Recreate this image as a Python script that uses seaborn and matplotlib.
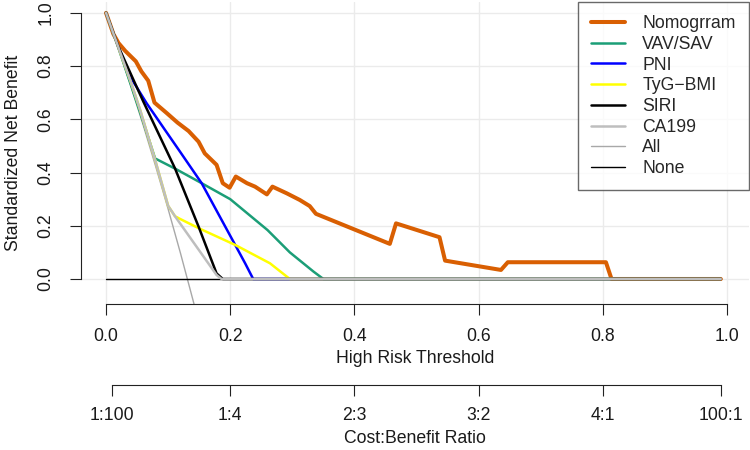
import matplotlib
matplotlib.use("Agg")
import matplotlib.pyplot as plt
import seaborn as sns
from matplotlib.lines import Line2D

# --- datos (umbral vs beneficio neto estandarizado) ---
nomo_x = [0.0, 0.012, 0.020, 0.031, 0.048, 0.057, 0.068, 0.078, 0.098, 0.115, 0.133,
          0.149, 0.159, 0.178, 0.188, 0.199, 0.209, 0.227, 0.240, 0.259, 0.268, 0.291,
          0.312, 0.328, 0.338, 0.457, 0.467, 0.537, 0.546, 0.636, 0.647, 0.805, 0.814, 0.99]
nomo_y = [1.0, 0.92, 0.887, 0.857, 0.818, 0.78, 0.745, 0.663, 0.623, 0.588, 0.556,
          0.516, 0.472, 0.429, 0.36, 0.343, 0.385, 0.36, 0.347, 0.318, 0.347, 0.322,
          0.297, 0.274, 0.245, 0.132, 0.209, 0.157, 0.069, 0.034, 0.063, 0.063, 0.0, 0.0]

vav_x = [0.0, 0.02, 0.04, 0.06, 0.079, 0.111, 0.154, 0.2, 0.26, 0.296, 0.334, 0.35, 0.99]
vav_y = [1.0, 0.868, 0.73, 0.59, 0.453, 0.415, 0.36, 0.30, 0.184, 0.10, 0.028, 0.0, 0.0]

pni_x = [0.0, 0.02, 0.039, 0.0655, 0.095, 0.119, 0.154, 0.208, 0.224, 0.237, 0.99]
pni_y = [1.0, 0.87, 0.76, 0.66, 0.56, 0.479, 0.36, 0.128, 0.059, 0.0, 0.0]

tyg_x = [0.0, 0.02, 0.04, 0.055, 0.08, 0.1, 0.111, 0.119, 0.15, 0.208, 0.264, 0.296, 0.99]
tyg_y = [1.0, 0.87, 0.74, 0.635, 0.44, 0.275, 0.236, 0.226, 0.19, 0.128, 0.059, 0.0, 0.0]

siri_x = [0.0, 0.02, 0.06, 0.111, 0.149, 0.178, 0.188, 0.99]
siri_y = [1.0, 0.873, 0.667, 0.416, 0.197, 0.021, 0.0, 0.0]

ca_x = [0.0, 0.02, 0.04, 0.055, 0.08, 0.1, 0.111, 0.178, 0.186, 0.99]
ca_y = [1.0, 0.87, 0.74, 0.635, 0.44, 0.275, 0.236, 0.015, 0.0, 0.0]

all_x = [0.0, 0.02, 0.04, 0.06, 0.08, 0.10, 0.12, 0.14, 0.16]
all_y = [1.0, 0.865, 0.724, 0.577, 0.423, 0.263, 0.096, -0.079, -0.26]

none_x = [0.0, 0.99]
none_y = [0.0, 0.0]

x_ticks = [0.0, 0.2, 0.4, 0.6, 0.8, 1.0]
y_ticks = [0.0, 0.2, 0.4, 0.6, 0.8, 1.0]
cb_ticks = [1 / 101, 0.2, 0.4, 0.6, 0.8, 100 / 101]
cb_labels = ["1:100", "1:4", "2:3", "3:2", "4:1", "100:1"]

FS = 12.7
sns.set_theme(style="white")
plt.rcParams["font.family"] = ["Liberation Sans", "DejaVu Sans"]

fig = plt.figure(figsize=(7.5, 4.5), dpi=100)
ax = fig.add_axes([81 / 750, 146 / 450, 668 / 750, 302 / 450])

# (etiqueta, x, y, color, grosor) en orden de dibujo
series = [
    ("All", all_x, all_y, "#A8A8A8", 1.0),
    ("None", none_x, none_y, "#000000", 1.0),
    ("Nomogrram", nomo_x, nomo_y, "#D95F02", 2.9),
    ("VAV/SAV", vav_x, vav_y, "#1B9E77", 1.8),
    ("PNI", pni_x, pni_y, "#0000FF", 1.8),
    ("TyG\u2212BMI", tyg_x, tyg_y, "#FFFF00", 1.8),
    ("SIRI", siri_x, siri_y, "#000000", 1.8),
    ("CA199", ca_x, ca_y, "#BEBEBE", 1.8),
]
for lab, xs, ys, col, lw in series:
    sns.lineplot(x=xs, y=ys, color=col, linewidth=lw, sort=False,
                 estimator=None, ax=ax)

ax.set_xlim(-0.0403, 1.0354)
ax.set_ylim(-0.094, 1.041)
ax.grid(True, color="#EBEBEB", linewidth=1)
ax.set_axisbelow(True)
for s in ["top", "right"]:
    ax.spines[s].set_visible(False)
ax.spines["left"].set_bounds(0, 1)
ax.spines["bottom"].set_bounds(0, 1)
for s in ["left", "bottom"]:
    ax.spines[s].set_color("#222222")
    ax.spines[s].set_linewidth(0.8)
ax.set_xticks(x_ticks)
ax.set_xticklabels(["0.0", "0.2", "0.4", "0.6", "0.8", "1.0"])
ax.set_yticks(y_ticks)
ax.set_yticklabels(["0.0", "0.2", "0.4", "0.6", "0.8", "1.0"], rotation=90, va="center")
ax.tick_params(axis="both", direction="out", length=8, width=0.8, color="#222222",
               labelsize=FS, labelcolor="#1a1a1a", bottom=True, left=True)
ax.tick_params(axis="x", pad=9)
ax.tick_params(axis="y", pad=11)
ax.set_xlabel("High Risk Threshold", fontsize=FS, labelpad=4, color="#1a1a1a")
ax.set_ylabel("Standardized Net Benefit", fontsize=FS, labelpad=11, color="#1a1a1a")

# eje secundario Cost:Benefit
ax2 = fig.add_axes([81 / 750, 65 / 450, 668 / 750, 0.0001])
ax2.set_xlim(ax.get_xlim())
for s in ["top", "right", "left"]:
    ax2.spines[s].set_visible(False)
ax2.spines["bottom"].set_bounds(cb_ticks[0], cb_ticks[-1])
ax2.spines["bottom"].set_color("#222222")
ax2.spines["bottom"].set_linewidth(0.8)
ax2.set_yticks([])
ax2.set_xticks(cb_ticks)
ax2.set_xticklabels(cb_labels)
ax2.tick_params(axis="x", direction="out", length=8, width=0.8, color="#222222",
                labelsize=FS, labelcolor="#1a1a1a", pad=8, bottom=True)
ax2.set_xlabel("Cost:Benefit Ratio", fontsize=FS, labelpad=4, color="#1a1a1a")
ax2.patch.set_alpha(0)

# leyenda
order = ["Nomogrram", "VAV/SAV", "PNI", "TyG\u2212BMI", "SIRI", "CA199", "All", "None"]
info = {lab: (col, lw) for lab, _, _, col, lw in series}
handles = [Line2D([], [], color=info[l][0], linewidth=info[l][1]) for l in order]
leg = ax.legend(handles, order, loc="upper right", fontsize=FS, frameon=True,
                fancybox=False, borderaxespad=0, handlelength=1.9,
                handletextpad=1.0, labelspacing=0.21, borderpad=0.75)
leg.get_frame().set_edgecolor("#444444")
leg.get_frame().set_linewidth(1.0)

fig.savefig("out.png", dpi=100)
